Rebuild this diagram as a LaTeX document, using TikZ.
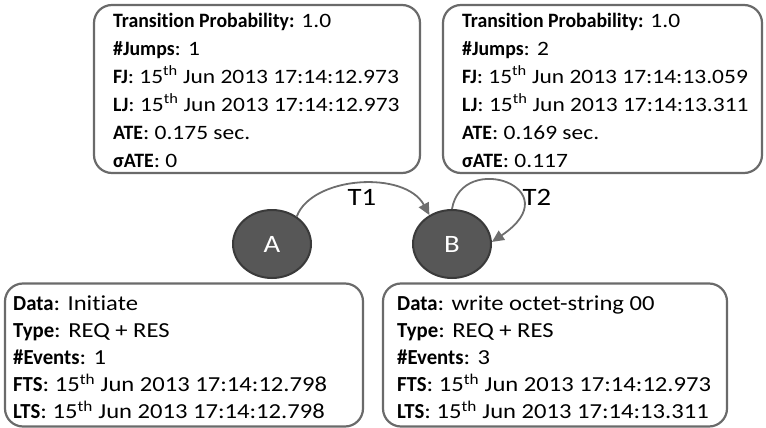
\documentclass[tikz,border=0pt]{standalone}
\usepackage{fontspec}
\setmainfont{Carlito}[Ligatures=NoCommon,UprightFeatures={FakeStretch=1.15},BoldFeatures={FakeStretch=0.97}]
\usetikzlibrary{arrows.meta,shapes.geometric}
\definecolor{boxgray}{HTML}{6A6A6A}
\definecolor{nodegray}{HTML}{575757}
\definecolor{nodeborder}{HTML}{3A3A3A}
\definecolor{edgegray}{HTML}{6E6E6E}
\begin{document}
\begin{tikzpicture}[x=1pt,y=-1pt,
  infobox/.style={draw=boxgray, line width=2.2pt, rounded corners=18pt, inner sep=0pt},
  infotext/.style={anchor=north west, inner sep=0pt, align=left, font=\fontsize{20.4}{28}\selectfont},
  infotextb/.style={anchor=north west, inner sep=0pt, align=left, font=\fontsize{21.4}{27}\selectfont},
  state/.style={ellipse, fill=nodegray, draw=nodeborder, line width=2pt, minimum width=78pt, minimum height=68pt, inner sep=0pt, text=white, font=\fontsize{25}{30}\selectfont},
  edgeline/.style={draw=edgegray, line width=1.8pt, -{Triangle[length=12pt,width=11pt]}},
  tlabel/.style={inner sep=0pt, font=\fontsize{25}{30}\selectfont}]
\useasboundingbox (0,0) rectangle (766,428);

% top boxes
\node[infobox, minimum width=326pt, minimum height=168pt] (tlbox) at (257,89) {};
\node[infotext] (tltext) at (113,13) {\textbf{Transition Probability:} 1.0\\
\textbf{\#Jumps}: 1\\
\textbf{FJ}: 15\textsuperscript{th} Jun 2013 17:14:12.973\\
\textbf{LJ}: 15\textsuperscript{th} Jun 2013 17:14:12.973\\
\textbf{ATE}: 0.175 sec.\\
\textbf{σATE}: 0};

\node[infobox, minimum width=319pt, minimum height=168pt] (trbox) at (602.5,89) {};
\node[infotext] (trtext) at (462,13) {\textbf{Transition Probability:} 1.0\\
\textbf{\#Jumps}: 2\\
\textbf{FJ}: 15\textsuperscript{th} Jun 2013 17:14:13.059\\
\textbf{LJ}: 15\textsuperscript{th} Jun 2013 17:14:13.311\\
\textbf{ATE}: 0.169 sec.\\
\textbf{σATE}: 0.117};

% bottom boxes
\node[infobox, minimum width=358pt, minimum height=143pt] (blbox) at (184,355) {};
\node[infotextb] (bltext) at (13,296) {\textbf{Data}: Initiate\\
\textbf{Type}: REQ + RES\\
\textbf{\#Events}: 1\\
\textbf{FTS}: 15\textsuperscript{th} Jun 2013 17:14:12.798\\
\textbf{LTS}: 15\textsuperscript{th} Jun 2013 17:14:12.798};

\node[infobox, minimum width=344pt, minimum height=143pt] (brbox) at (555,355) {};
\node[infotextb] (brtext) at (397,296) {\textbf{Data}: write octet-string 00\\
\textbf{Type}: REQ + RES\\
\textbf{\#Events}: 3\\
\textbf{FTS}: 15\textsuperscript{th} Jun 2013 17:14:12.973\\
\textbf{LTS}: 15\textsuperscript{th} Jun 2013 17:14:13.311};

% states
\node[state] (A) at (272,244) {A};
\node[state] (B) at (452,244) {B};

% transitions
\draw[edgeline] (A.48) .. controls (312,176) and (405,170) .. (B.128);
\draw[edgeline] (B.north) .. controls (462,150) and (572,188) .. (B.3);
\node[tlabel] (t1) at (362,197) {T1};
\node[tlabel] (t2) at (537,197) {T2};
\end{tikzpicture}
\end{document}
